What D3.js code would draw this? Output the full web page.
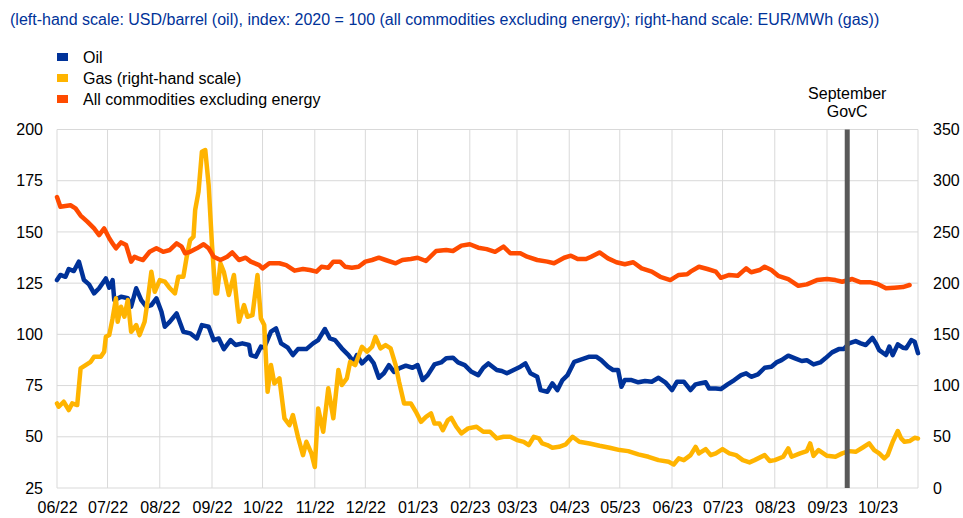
<!DOCTYPE html>
<html>
<head>
<meta charset="utf-8">
<script src="https://cdn.jsdelivr.net/npm/d3@7"></script>
<style>
  body { margin: 0; background: #fff; }
  svg { font-family: Arial, "Liberation Sans", sans-serif; display: block; }
</style>
</head>
<body>
<div id="chart"></div>
<script>
// Oil, USD/barrel (left-hand scale)
const oilSeries = [
  ["2022-06-01",126.5],["2022-06-03",129],["2022-06-06",128.1],["2022-06-08",131.9],["2022-06-11",130.9],
  ["2022-06-14",135.5],["2022-06-17",126.5],["2022-06-20",124.4],["2022-06-23",120],["2022-06-26",122.5],
  ["2022-06-30",127.3],["2022-07-02",122.8],["2022-07-04",126.5],["2022-07-05",116.7],["2022-07-09",118.4],
  ["2022-07-13",117.6],["2022-07-15",113.5],["2022-07-18",122.5],["2022-07-21",116.7],["2022-07-24",113.5],
  ["2022-07-27",114.3],["2022-07-30",117.6],["2022-08-02",111],["2022-08-04",103.7],["2022-08-07",106.2],
  ["2022-08-11",110.2],["2022-08-15",101.3],["2022-08-19",100.5],["2022-08-23",98],["2022-08-26",104.5],
  ["2022-08-30",103.7],["2022-09-02",97.2],["2022-09-05",98],["2022-09-08",92.8],["2022-09-12",97.2],
  ["2022-09-15",94.8],["2022-09-19",95.6],["2022-09-23",94.8],["2022-09-24",89.9],["2022-09-27",89.1],
  ["2022-09-30",94],["2022-10-02",93.5],["2022-10-06",101.3],["2022-10-09",102.9],["2022-10-12",95.6],
  ["2022-10-16",93.5],["2022-10-19",89.9],["2022-10-22",92.8],["2022-10-27",92.8],["2022-10-31",95.6],
  ["2022-11-03",97.2],["2022-11-07",102.6],["2022-11-10",98],["2022-11-13",97.2],["2022-11-17",93.2],
  ["2022-11-21",89.9],["2022-11-24",86.6],["2022-11-26",89.9],["2022-11-29",85.8],["2022-12-03",89.1],
  ["2022-12-06",85.8],["2022-12-09",78.8],["2022-12-12",81],["2022-12-15",85],["2022-12-18",81.7],
  ["2022-12-21",83.4],["2022-12-25",84.7],["2022-12-29",83.7],["2023-01-01",85],["2023-01-04",77.7],
  ["2023-01-07",80.1],["2023-01-11",85.3],["2023-01-15",86.3],["2023-01-18",88.3],["2023-01-22",88.6],
  ["2023-01-25",86.3],["2023-01-29",85],["2023-02-02",81.7],["2023-02-06",80.1],["2023-02-09",83.7],
  ["2023-02-12",85.8],["2023-02-17",82.6],["2023-02-20",82.1],["2023-02-23",81],["2023-02-27",82.6],
  ["2023-03-03",84.2],["2023-03-06",85.8],["2023-03-09",81],["2023-03-13",79.3],["2023-03-15",72.8],
  ["2023-03-19",72],["2023-03-22",76.1],["2023-03-25",72.8],["2023-03-28",77.7],["2023-03-31",80.1],
  ["2023-04-04",86.6],["2023-04-07",87.4],["2023-04-13",89.1],["2023-04-17",89.1],["2023-04-20",87.4],
  ["2023-04-24",84.2],["2023-04-27",82.6],["2023-04-30",82.6],["2023-05-02",74.4],["2023-05-04",77.7],
  ["2023-05-08",77.7],["2023-05-12",76.6],["2023-05-16",77.2],["2023-05-20",76.9],["2023-05-24",78.8],
  ["2023-05-28",76.6],["2023-06-01",72.8],["2023-06-04",76.9],["2023-06-08",76.9],["2023-06-12",72.8],
  ["2023-06-15",75.6],["2023-06-18",76.1],["2023-06-21",76.6],["2023-06-23",73.6],["2023-06-27",73.6],
  ["2023-06-30",73.3],["2023-07-04",75.6],["2023-07-08",77.7],["2023-07-12",80.1],["2023-07-15",81],
  ["2023-07-18",79.3],["2023-07-22",80.5],["2023-07-26",83.7],["2023-07-30",84.2],["2023-08-02",86.3],
  ["2023-08-05",87.4],["2023-08-09",89.6],["2023-08-13",88.3],["2023-08-17",87],["2023-08-20",87.4],
  ["2023-08-24",85.3],["2023-08-28",86.3],["2023-08-31",88.3],["2023-09-04",91.2],["2023-09-08",92.8],
  ["2023-09-11",92.8],["2023-09-14",95.6],["2023-09-18",96.7],["2023-09-21",95.6],["2023-09-24",94.8],
  ["2023-09-28",98.3],["2023-09-30",95.6],["2023-10-02",92.3],["2023-10-06",89.9],["2023-10-08",94],
  ["2023-10-10",89.9],["2023-10-13",95.1],["2023-10-16",93.5],["2023-10-18",93.2],["2023-10-21",97.2],
  ["2023-10-23",96.4],["2023-10-25",90.8]
];

// Gas, EUR/MWh (right-hand scale)
const gasSeries = [
  ["2022-06-01",82.6],["2022-06-02",79.3],["2022-06-05",84.2],["2022-06-08",76.1],["2022-06-10",82.6],
  ["2022-06-13",81],["2022-06-15",116.8],["2022-06-18",120],["2022-06-21",123.2],["2022-06-23",128.1],
  ["2022-06-27",128.1],["2022-06-29",133],["2022-06-30",147.6],["2022-07-02",149.3],["2022-07-04",165.6],
  ["2022-07-06",185.2],["2022-07-07",162.3],["2022-07-09",177],["2022-07-11",167.2],["2022-07-13",183.5],
  ["2022-07-15",152.5],["2022-07-18",159.1],["2022-07-20",149.3],["2022-07-23",162.3],["2022-07-25",185.2],
  ["2022-07-27",211.1],["2022-07-29",191.6],["2022-08-01",203],["2022-08-04",201.4],["2022-08-07",195],
  ["2022-08-10",190],["2022-08-12",206.3],["2022-08-15",206.3],["2022-08-17",225.8],["2022-08-19",242.1],
  ["2022-08-21",245.3],["2022-08-22",271.4],["2022-08-24",289.3],["2022-08-26",328.3],["2022-08-28",330],
  ["2022-08-30",295.8],["2022-09-01",237.2],["2022-09-03",190],["2022-09-04",190],["2022-09-06",219.3],
  ["2022-09-08",211.1],["2022-09-11",188.4],["2022-09-14",207.9],["2022-09-17",162.3],["2022-09-20",178.6],
  ["2022-09-22",167.2],["2022-09-25",168.8],["2022-09-28",207.9],["2022-09-30",165.6],["2022-10-02",159.1],
  ["2022-10-04",93.9],["2022-10-06",120],["2022-10-08",102.1],["2022-10-11",107],["2022-10-14",68],
  ["2022-10-17",61.4],["2022-10-19",71.2],["2022-10-22",50],["2022-10-25",32.1],["2022-10-27",45.1],
  ["2022-10-30",33.8],["2022-11-01",20.5],["2022-11-03",77.7],["2022-11-06",54.9],["2022-11-09",97.3],
  ["2022-11-12",68],["2022-11-15",115.2],["2022-11-17",100.5],["2022-11-20",107],["2022-11-22",123.2],
  ["2022-11-25",120],["2022-11-29",137.9],["2022-12-02",133],["2022-12-05",137.9],["2022-12-07",147.6],
  ["2022-12-10",136.3],["2022-12-13",139.5],["2022-12-16",136.3],["2022-12-19",120],["2022-12-21",103.7],
  ["2022-12-24",82.6],["2022-12-28",82.6],["2022-12-31",74.4],["2023-01-03",64.6],["2023-01-06",69.5],
  ["2023-01-09",72.8],["2023-01-11",63],["2023-01-14",63],["2023-01-16",56.5],["2023-01-19",66.3],
  ["2023-01-21",68.5],["2023-01-24",59.8],["2023-01-27",53.3],["2023-01-31",58.2],["2023-02-05",59.8],
  ["2023-02-09",54.9],["2023-02-13",54.9],["2023-02-17",48.4],["2023-02-21",50],["2023-02-25",50],
  ["2023-03-01",46.8],["2023-03-05",45.1],["2023-03-08",41.9],["2023-03-11",50],["2023-03-14",48.4],
  ["2023-03-16",43.5],["2023-03-19",41.9],["2023-03-22",39.3],["2023-03-26",40.2],["2023-03-30",42.6],
  ["2023-04-03",50],["2023-04-07",45.1],["2023-04-13",43.5],["2023-04-19",41.2],["2023-04-25",39.3],
  ["2023-05-01",37],["2023-05-06",36],["2023-05-12",32.8],["2023-05-18",30.5],["2023-05-24",27.2],
  ["2023-05-30",25.6],["2023-06-02",23],["2023-06-05",28.9],["2023-06-08",27.2],["2023-06-12",32.1],
  ["2023-06-15",40.2],["2023-06-17",33.8],["2023-06-21",38],["2023-06-24",32.1],["2023-06-27",33.8],
  ["2023-07-01",38],["2023-07-05",33.8],["2023-07-09",32.1],["2023-07-13",27.2],["2023-07-17",25],
  ["2023-07-20",27.2],["2023-07-26",32.1],["2023-07-29",26.3],["2023-08-01",27.2],["2023-08-06",30.5],
  ["2023-08-09",38.7],["2023-08-11",30.5],["2023-08-16",33.8],["2023-08-20",36],["2023-08-22",43.5],
  ["2023-08-24",31.4],["2023-08-27",37],["2023-09-01",31.4],["2023-09-06",30.5],["2023-09-10",33.8],
  ["2023-09-14",36],["2023-09-18",35.3],["2023-09-22",39.3],["2023-09-26",43.5],["2023-09-29",37],
  ["2023-10-02",33.8],["2023-10-05",28.9],["2023-10-07",32.1],["2023-10-10",45.1],["2023-10-13",55.6],
  ["2023-10-15",48.4],["2023-10-17",45.1],["2023-10-20",45.8],["2023-10-23",49],["2023-10-25",48.4]
];

// All commodities excluding energy, index 2020 = 100 (left-hand scale)
const nonEnergySeries = [
  ["2022-06-01",167],["2022-06-03",162.3],["2022-06-09",163],["2022-06-12",161.5],["2022-06-15",158],
  ["2022-06-19",155],["2022-06-23",151.7],["2022-06-26",148.5],["2022-06-29",151.7],["2022-07-02",146.9],
  ["2022-07-04",144.4],["2022-07-06",142],["2022-07-09",144.9],["2022-07-12",143.6],["2022-07-15",135.5],
  ["2022-07-17",137.9],["2022-07-19",137.1],["2022-07-22",136.3],["2022-07-26",140.3],["2022-07-30",142],
  ["2022-08-03",140.3],["2022-08-07",141.2],["2022-08-11",144.4],["2022-08-14",142.8],["2022-08-16",139.6],
  ["2022-08-19",140.3],["2022-08-23",142],["2022-08-27",144],["2022-08-30",142],["2022-09-02",137.9],
  ["2022-09-06",136.3],["2022-09-10",137.9],["2022-09-13",140],["2022-09-17",136.3],["2022-09-21",137.4],
  ["2022-09-24",135.5],["2022-09-29",133.8],["2022-10-01",132.2],["2022-10-05",134.7],["2022-10-11",134.7],
  ["2022-10-15",133.8],["2022-10-20",131.1],["2022-10-25",131.9],["2022-10-29",131.4],["2022-11-02",130.6],
  ["2022-11-05",133],["2022-11-09",132.5],["2022-11-12",135.5],["2022-11-16",135.5],["2022-11-19",133],
  ["2022-11-23",132.5],["2022-11-27",133],["2022-12-01",135.5],["2022-12-05",136.3],["2022-12-09",137.4],
  ["2022-12-13",136.3],["2022-12-19",134.7],["2022-12-23",136.3],["2022-12-28",136.8],["2023-01-01",137.4],
  ["2023-01-06",135.8],["2023-01-12",140.7],["2023-01-18",141.2],["2023-01-22",140.7],["2023-01-27",143.3],
  ["2023-02-01",144],["2023-02-06",142.3],["2023-02-11",141.6],["2023-02-16",140.3],["2023-02-21",142.8],
  ["2023-02-25",139.6],["2023-03-03",139.6],["2023-03-07",137.9],["2023-03-13",136.3],["2023-03-19",135.5],
  ["2023-03-23",134.7],["2023-03-29",137.4],["2023-04-02",138.4],["2023-04-06",136.8],["2023-04-11",136.8],
  ["2023-04-14",137.9],["2023-04-19",140],["2023-04-24",137.1],["2023-04-29",135.2],["2023-05-04",134.2],
  ["2023-05-09",135.2],["2023-05-14",132.2],["2023-05-20",130.6],["2023-05-25",128.1],["2023-05-31",126.5],
  ["2023-06-05",129],["2023-06-10",129.3],["2023-06-12",130.6],["2023-06-17",133],["2023-06-22",131.9],
  ["2023-06-27",130.6],["2023-06-30",127.6],["2023-07-05",129],["2023-07-10",128.6],["2023-07-15",132.2],
  ["2023-07-18",130.3],["2023-07-23",131.4],["2023-07-26",133],["2023-07-30",131.4],["2023-08-03",128.6],
  ["2023-08-09",127],["2023-08-15",123.7],["2023-08-20",124.4],["2023-08-26",126.5],["2023-09-01",127],
  ["2023-09-06",126.5],["2023-09-10",125.7],["2023-09-16",127],["2023-09-21",125.4],["2023-09-27",125.4],
  ["2023-10-01",124.6],["2023-10-06",122.5],["2023-10-11",122.8],["2023-10-16",123.1],["2023-10-20",124.1]
];

const leftTicks = [25, 50, 75, 100, 125, 150, 175, 200];
const rightTicks = [0, 50, 100, 150, 200, 250, 300, 350];
const monthTicks = ["2022-06-01","2022-07-01","2022-08-01","2022-09-01","2022-10-01","2022-11-01",
  "2022-12-01","2023-01-01","2023-02-01","2023-03-01","2023-04-01","2023-05-01","2023-06-01",
  "2023-07-01","2023-08-01","2023-09-01","2023-10-01"];
const xStart = "2022-06-01";
const xEnd = "2023-10-25";
const govcDate = "2023-09-13";
const legendNames = ["Oil", "Gas (right-hand scale)", "All commodities excluding energy"];
const titleText = "(left-hand scale: USD/barrel (oil), index: 2020 = 100 (all commodities excluding energy); right-hand scale: EUR/MWh (gas))";

const W = 963;
const H = 518;
const margin = { top: 129.5, right: 45, bottom: 30, left: 57 };
const width = W - margin.left - margin.right;
const height = H - margin.top - margin.bottom;

const colors = { oil: "#003299", gas: "#ffb400", nonEnergy: "#ff4b00" };
const parse = d3.timeParse("%Y-%m-%d");
const toPoints = (s) => s.map(([d, v]) => ({ date: parse(d), value: v }));

const svg = d3
  .select("#chart")
  .append("svg")
  .attr("width", W)
  .attr("height", H);

const graph = svg
  .append("g")
  .attr("transform", `translate(${margin.left},${margin.top})`);

// scales
const x = d3.scaleTime().domain([parse(xStart), parse(xEnd)]).range([0, width]);
const yL = d3.scaleLinear().domain([25, 200]).range([height, 0]);
const yR = d3.scaleLinear().domain([0, 350]).range([height, 0]);

// grid
graph
  .append("g")
  .attr("stroke", "#d9d9d9")
  .attr("stroke-width", 1)
  .selectAll("line")
  .data(leftTicks)
  .join("line")
  .attr("x1", 0)
  .attr("x2", width)
  .attr("y1", (d) => yL(d))
  .attr("y2", (d) => yL(d));

graph
  .append("g")
  .attr("stroke", "#d9d9d9")
  .attr("stroke-width", 1)
  .selectAll("line")
  .data(monthTicks.map(parse).concat([parse(xEnd)]))
  .join("line")
  .attr("x1", (d) => x(d))
  .attr("x2", (d) => x(d))
  .attr("y1", 0)
  .attr("y2", height);

// axes
const tickFont = (g) =>
  g
    .call((g) => g.select(".domain").remove())
    .selectAll("text")
    .attr("font-size", "16px")
    .attr("font-family", "Arial, 'Liberation Sans', sans-serif")
    .attr("fill", "#000");

graph
  .append("g")
  .call(d3.axisLeft(yL).tickValues(leftTicks).tickSize(0).tickPadding(14))
  .call(tickFont);

graph
  .append("g")
  .attr("transform", `translate(${width},0)`)
  .call(d3.axisRight(yR).tickValues(rightTicks).tickSize(0).tickPadding(15))
  .call(tickFont);

graph
  .append("g")
  .attr("transform", `translate(0,${height})`)
  .call(
    d3
      .axisBottom(x)
      .tickValues(monthTicks.map(parse))
      .tickFormat(d3.timeFormat("%m/%y"))
      .tickSize(0)
      .tickPadding(14),
  )
  .call(tickFont);

// lines
const lineL = d3.line().x((d) => x(d.date)).y((d) => yL(d.value));
const lineR = d3.line().x((d) => x(d.date)).y((d) => yR(d.value));

const series = [
  { data: toPoints(oilSeries), line: lineL, color: colors.oil },
  { data: toPoints(gasSeries), line: lineR, color: colors.gas },
  { data: toPoints(nonEnergySeries), line: lineL, color: colors.nonEnergy },
];

graph
  .append("g")
  .attr("fill", "none")
  .attr("stroke-width", 4.5)
  .attr("stroke-linejoin", "round")
  .attr("stroke-linecap", "round")
  .selectAll("path")
  .data(series)
  .join("path")
  .attr("stroke", (d) => d.color)
  .attr("d", (d) => d.line(d.data));

// GovC marker
graph
  .append("line")
  .attr("x1", x(parse(govcDate)))
  .attr("x2", x(parse(govcDate)))
  .attr("y1", 0)
  .attr("y2", height)
  .attr("stroke", "#595959")
  .attr("stroke-width", 5);

svg
  .append("text")
  .attr("x", margin.left + x(parse(govcDate)))
  .attr("text-anchor", "middle")
  .attr("font-size", "16px")
  .selectAll("tspan")
  .data(["September", "GovC"])
  .join("tspan")
  .attr("x", margin.left + x(parse(govcDate)))
  .attr("y", (d, i) => 99 + i * 18)
  .text((d) => d);

// title
svg
  .append("text")
  .attr("x", 10)
  .attr("y", 25)
  .attr("font-size", "16px")
  .attr("fill", "#003299")
  .text(titleText);

// legend
const legend = svg
  .append("g")
  .selectAll("g")
  .data(legendNames)
  .join("g")
  .attr("transform", (d, i) => `translate(57,${57 + i * 21})`);

legend
  .append("rect")
  .attr("x", 0)
  .attr("y", -4)
  .attr("width", 11)
  .attr("height", 8)
  .attr("fill", (d, i) => [colors.oil, colors.gas, colors.nonEnergy][i]);

legend
  .append("text")
  .attr("x", 26)
  .attr("dy", "0.35em")
  .attr("font-size", "16px")
  .text((d) => d);
</script>
</body>
</html>
